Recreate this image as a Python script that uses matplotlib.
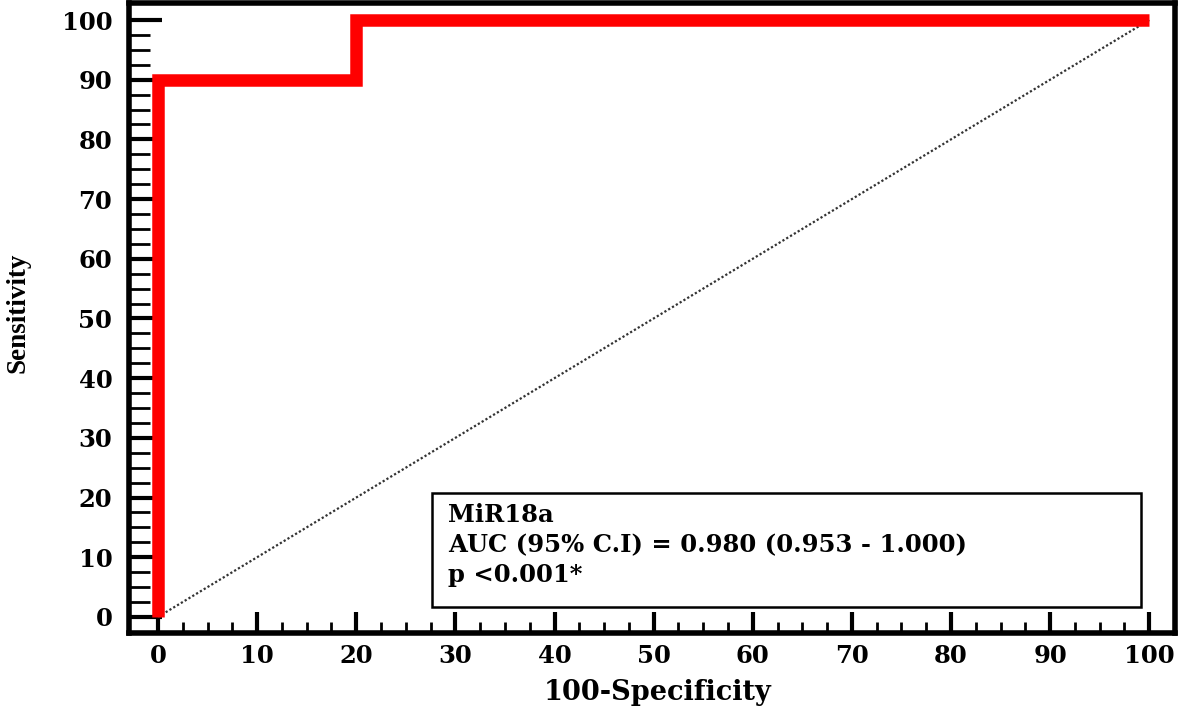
import matplotlib
matplotlib.use("Agg")
import matplotlib.pyplot as plt
from matplotlib.ticker import FixedLocator
from matplotlib.patches import Rectangle

# ROC data (100-Specificity, Sensitivity)
fpr = [0, 0, 20, 20, 100]
tpr = [0, 90, 90, 100, 100]
ref_x = [0, 100]
ref_y = [0, 100]
ticks = list(range(0, 101, 10))
minor_ticks = [v / 2 for v in range(0, 201, 5)]
label_lines = ["MiR18a", "AUC (95% C.I) = 0.980 (0.953 - 1.000)", "p <0.001*"]

plt.rcParams['font.family'] = ['DejaVu Serif']
plt.rcParams['font.weight'] = 'bold'

fig = plt.figure(figsize=(11.8, 7.13), dpi=100)
ax = fig.add_axes([129/1180, 80/713, (1175-129)/1180, (633-3)/713])

ax.plot(ref_x, ref_y, color='#333333', lw=1.6, ls=(0, (1, 1)), zorder=2)
ax.plot(fpr, tpr, color='#ff0000', lw=9, solid_joinstyle='miter', solid_capstyle='butt', zorder=3)

ax.set_xlim(-2.93, 102.6)
ax.set_ylim(-2.7, 102.85)
ax.set_xticks(ticks)
ax.set_yticks(ticks)
ax.xaxis.set_minor_locator(FixedLocator(minor_ticks))
ax.yaxis.set_minor_locator(FixedLocator(minor_ticks))
ax.tick_params(axis='x', which='major', direction='in', length=15, width=3, labelsize=17.5, pad=8, top=False)
ax.tick_params(axis='x', which='minor', direction='in', length=8, width=2, top=False)
ax.tick_params(axis='y', which='major', direction='in', length=24, width=3, labelsize=17.5, pad=12, right=False)
ax.tick_params(axis='y', which='minor', direction='in', length=15, width=2, right=False)
for lab in ax.get_xticklabels() + ax.get_yticklabels():
    lab.set_fontweight('bold')
for s in ax.spines.values():
    s.set_linewidth(4)

ax.set_xlabel("100-Specificity", fontsize=19.5, fontweight='bold')
ax.xaxis.set_label_coords((658 - 129) / (1175 - 129), -(693 - 633) / 630)
ax.xaxis.label.set_va('center')
ax.set_ylabel("Sensitivity", fontsize=19.5, fontweight='bold',
              family=['Liberation Serif'])
ax.yaxis.set_label_coords(-(129 - 18) / (1175 - 129), (633 - 313) / 630)
ax.yaxis.label.set_va('center')

# annotation box
box = Rectangle((27.6, 1.7), 71.6, 19.0, fill=False, lw=1.8, edgecolor='black', zorder=4)
ax.add_patch(box)
ys = [17.1, 12.0, 7.0]
for t, yy in zip(label_lines, ys):
    ax.text(29.3, yy, t, fontsize=17.5, fontweight='bold', va='center', ha='left', zorder=5)

fig.savefig("out.png", dpi=100)
